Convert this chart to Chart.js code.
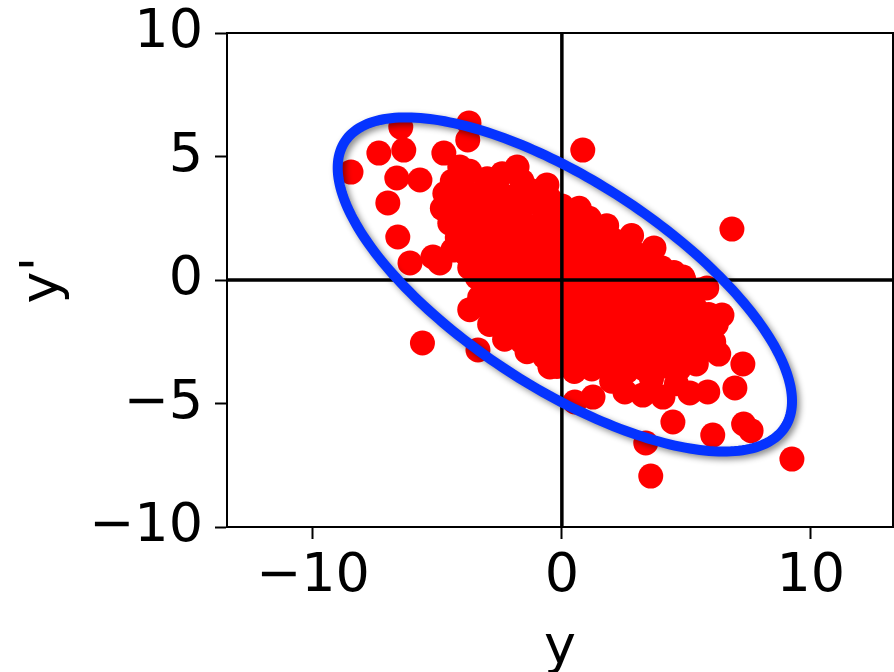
<!DOCTYPE html>
<html>
<head>
<meta charset="utf-8">
<script src="https://cdn.jsdelivr.net/npm/chart.js@4"></script>
<style>
  html, body { margin: 0; padding: 0; background: #fff; overflow: hidden; }
  canvas { display: block; }
</style>
</head>
<body>
<canvas id="scatterChart" width="894" height="672"></canvas>
<script>
// points on the rim of the cloud, read one by one: [y, y']
const edgePoints = [
  [-8.47, 4.37], [-7.35, 5.14], [-6.47, 6.19], [-6.35, 5.26], [-6.63, 4.13], [-5.7, 4.05],
  [-6.99, 3.12], [-6.59, 1.74], [-6.1, 0.69], [-5.18, 0.93], [-4.38, 1.21], [-4.9, 0.69],
  [-5.6, -2.55], [-4.74, 5.14], [-4.1, 4.57], [-3.73, 6.36], [-3.78, 5.67], [-1.8, 4.57],
  [-0.6, 3.85], [-3.0, 3.9], [0.84, 5.26], [6.83, 2.06], [9.24, -7.25], [3.57, -7.94],
  [3.37, -6.6], [6.06, -6.28], [7.3, -5.83], [7.6, -6.1], [4.46, -5.75], [-3.37, -2.83],
  [-3.7, -1.2], [0.52, -4.94], [1.25, -4.74], [2.53, -4.53], [3.25, -4.66], [4.06, -4.74],
  [5.14, -4.57], [5.86, -4.53], [6.95, -4.37], [7.27, -3.4], [6.43, -1.42], [5.82, -0.32],
  [4.86, 0.12], [-0.48, -3.52]
];

// the dense middle of the cloud: [y, y']
const corePoints = [
  [-4.4, 4.0], [-3.7, 4.4], [-3.0, 4.1], [-2.4, 4.3], [-1.6, 4.0],
  [-4.7, 3.5], [-4.0, 3.8], [-3.3, 3.5], [-2.6, 3.7], [-1.9, 3.4], [-1.2, 3.6], [-0.5, 3.3],
  [-4.8, 2.9], [-4.1, 3.1], [-3.5, 2.8], [-2.8, 3.0], [-2.1, 2.9], [-1.4, 3.1], [-0.7, 2.8], [0.0, 3.0], [0.7, 2.9],
  [-4.5, 2.3], [-3.8, 2.5], [-3.1, 2.2], [-2.4, 2.4], [-1.7, 2.5], [-1.0, 2.2], [-0.3, 2.4], [0.4, 2.3], [1.1, 2.5], [1.8, 2.2],
  [-4.2, 1.7], [-3.5, 1.9], [-2.8, 1.6], [-2.1, 1.8], [-1.4, 1.9], [-0.7, 1.6], [0.0, 1.8], [0.7, 1.7], [1.4, 1.9], [2.1, 1.6], [2.8, 1.8],
  [-3.9, 1.1], [-3.2, 1.3], [-2.5, 1.0], [-1.8, 1.2], [-1.1, 1.3], [-0.4, 1.0], [0.3, 1.2], [1.0, 1.3], [1.7, 1.1], [2.4, 1.2], [3.1, 1.0], [3.7, 1.3],
  [-3.7, 0.5], [-3.0, 0.7], [-2.3, 0.6], [-1.6, 0.4], [-0.9, 0.7], [-0.2, 0.5], [0.5, 0.6], [1.2, 0.7], [1.9, 0.4], [2.6, 0.6], [3.3, 0.7], [4.0, 0.5], [4.5, 0.3],
  [-3.4, 0.1], [-2.7, -0.1], [-2.0, 0.2], [-1.3, 0.0], [-0.6, -0.2], [0.1, 0.1], [0.8, -0.1], [1.5, 0.0], [2.2, 0.2], [2.9, -0.1], [3.6, 0.1], [4.3, -0.2], [4.9, 0.0],
  [-3.3, -0.7], [-2.6, -0.5], [-1.9, -0.6], [-1.2, -0.8], [-0.5, -0.5], [0.2, -0.6], [0.9, -0.7], [1.6, -0.5], [2.3, -0.6], [3.0, -0.8], [3.7, -0.5], [4.4, -0.6], [5.1, -0.7], [5.5, -0.4],
  [-3.0, -1.1], [-2.3, -1.3], [-1.6, -1.2], [-0.9, -1.0], [-0.2, -1.3], [0.5, -1.2], [1.2, -1.1], [1.9, -1.3], [2.6, -1.2], [3.3, -1.0], [4.0, -1.3], [4.7, -1.1], [5.4, -1.2], [5.9, -1.4],
  [-2.9, -1.8], [-2.2, -1.9], [-1.5, -1.7], [-0.8, -1.9], [-0.1, -1.8], [0.6, -1.7], [1.3, -1.9], [2.0, -1.8], [2.7, -1.7], [3.4, -1.9], [4.1, -1.8], [4.8, -1.7], [5.5, -1.9], [6.2, -1.8],
  [-2.3, -2.4], [-1.6, -2.5], [-0.9, -2.3], [-0.2, -2.5], [0.5, -2.4], [1.2, -2.3], [1.9, -2.5], [2.6, -2.4], [3.3, -2.3], [4.0, -2.5], [4.7, -2.4], [5.4, -2.3], [6.1, -2.5],
  [-1.4, -2.9], [-0.7, -3.1], [0.0, -3.0], [0.7, -2.9], [1.4, -3.1], [2.1, -3.0], [2.8, -3.1], [3.5, -2.9], [4.2, -3.0], [4.9, -3.1], [5.6, -2.9], [6.3, -3.0],
  [-0.2, -3.5], [0.5, -3.7], [1.2, -3.6], [1.9, -3.5], [2.6, -3.7], [3.3, -3.6], [4.0, -3.5], [4.7, -3.6], [5.4, -3.4],
  [2.0, -4.1], [3.6, -4.0], [4.6, -4.2],
  [-2.0, 2.7], [-1.0, 2.0], [0.0, 1.5], [-2.5, 1.5], [-1.5, 0.9], [0.5, 0.3], [1.5, -0.3], [-0.5, 0.2],
  [-1.0, -0.4], [2.0, -0.9], [1.0, -1.5], [3.0, -1.5], [0.0, -2.1], [2.0, -2.1], [3.0, -2.7], [1.0, -2.7],
  [-3.0, 2.0], [-2.0, -0.9], [-1.0, -1.6], [4.0, -2.1], [0.8, 1.0], [2.5, 0.9], [-3.5, 2.7], [-0.3, -0.9],
  [1.7, 0.3], [2.8, -0.3], [3.8, -0.9], [4.5, -1.5], [5.0, -2.7], [-0.2, 2.7], [1.0, 2.0], [2.0, 1.4],
  [3.2, 0.4], [-1.8, -2.1]
];

const xTicks = [-10, 0, 10];
const yTicks = [-10, -5, 0, 5, 10];
const xRange = [-13.45, 13.3];
const yRange = [-10, 10];

// confidence ellipse: centre, semi-axes, tilt in degrees (data units)
const ellipseCenter = [0.12, -0.18];
const ellipseAxes = [10.56, 4.18];
const ellipseAngle = -33.25;

const tickFont = { family: 'DejaVu Sans', size: 54 };
const fmt = v => String(v).replace('-', '\u2212');

const overlay = {
  id: 'overlay',
  afterDatasetsDraw(chart) {
    const { ctx, chartArea: a, scales: { x, y } } = chart;
    ctx.save();
    // lines through the origin
    ctx.strokeStyle = '#000';
    ctx.lineWidth = 3.5;
    ctx.beginPath();
    ctx.moveTo(a.left, y.getPixelForValue(0));
    ctx.lineTo(a.right, y.getPixelForValue(0));
    ctx.moveTo(x.getPixelForValue(0), a.top);
    ctx.lineTo(x.getPixelForValue(0), a.bottom);
    ctx.stroke();
    // top and right of the frame
    ctx.lineWidth = 2;
    ctx.beginPath();
    ctx.moveTo(a.left, a.top);
    ctx.lineTo(a.right, a.top);
    ctx.lineTo(a.right, a.bottom);
    ctx.stroke();
    // ellipse
    const t = ellipseAngle * Math.PI / 180;
    ctx.beginPath();
    for (let i = 0; i <= 240; i++) {
      const s = i / 240 * 2 * Math.PI;
      const ex = ellipseAxes[0] * Math.cos(s), ey = ellipseAxes[1] * Math.sin(s);
      const px = x.getPixelForValue(ellipseCenter[0] + ex * Math.cos(t) - ey * Math.sin(t));
      const py = y.getPixelForValue(ellipseCenter[1] + ex * Math.sin(t) + ey * Math.cos(t));
      if (i === 0) ctx.moveTo(px, py); else ctx.lineTo(px, py);
    }
    ctx.closePath();
    ctx.shadowColor = 'rgba(0,0,0,0.45)';
    ctx.shadowBlur = 6;
    ctx.shadowOffsetX = 3;
    ctx.shadowOffsetY = 3;
    ctx.strokeStyle = '#0533ff';
    ctx.lineWidth = 10;
    ctx.stroke();
    ctx.restore();
  }
};

const ctx = document.getElementById('scatterChart').getContext('2d');
new Chart(ctx, {
  type: 'scatter',
  data: {
    datasets: [{
      data: corePoints.concat(edgePoints).map(p => ({ x: p[0], y: p[1] })),
      backgroundColor: '#ff0000',
      borderWidth: 0,
      pointRadius: 12.5,
      pointHoverRadius: 12.5
    }]
  },
  options: {
    responsive: false,
    animation: false,
    events: [],
    layout: { autoPadding: false, padding: { top: 33, right: 1, left: 0, bottom: 0 } },
    plugins: { legend: { display: false }, tooltip: { enabled: false } },
    scales: {
      x: {
        type: 'linear',
        min: xRange[0],
        max: xRange[1],
        afterBuildTicks: s => { s.ticks = xTicks.map(v => ({ value: v })); },
        afterFit: s => { s.height = 145; s.paddingLeft = 0; s.paddingRight = 0; },
        grid: { drawOnChartArea: false, drawTicks: true, tickLength: 12, tickColor: '#000', tickWidth: 2 },
        border: { display: true, color: '#000', width: 2 },
        ticks: { color: '#000', font: tickFont, padding: 6, maxRotation: 0, autoSkip: false, callback: fmt },
        title: { display: true, text: 'y', color: '#000', font: tickFont, padding: { top: 0, bottom: -9 } }
      },
      y: {
        type: 'linear',
        min: yRange[0],
        max: yRange[1],
        afterBuildTicks: s => { s.ticks = yTicks.map(v => ({ value: v })); },
        afterFit: s => { s.width = 227; s.paddingTop = 0; s.paddingBottom = 0; },
        grid: { drawOnChartArea: false, drawTicks: true, tickLength: 12, tickColor: '#000', tickWidth: 2 },
        border: { display: true, color: '#000', width: 2 },
        ticks: { color: '#000', font: tickFont, padding: 12, autoSkip: false, callback: fmt },
        title: { display: true, text: "y'", color: '#000', font: tickFont, padding: { top: 12, bottom: 0 } }
      }
    }
  },
  plugins: [overlay]
});
</script>
</body>
</html>
